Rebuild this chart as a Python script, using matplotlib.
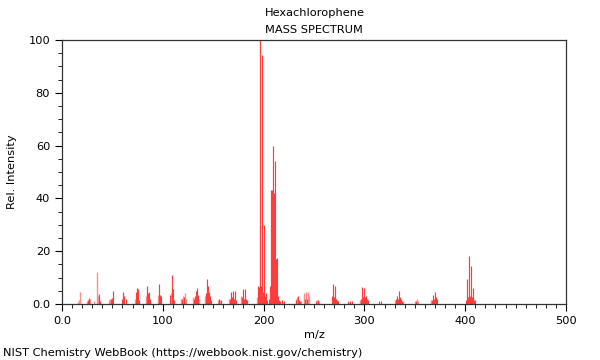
import matplotlib
matplotlib.use("Agg")
import matplotlib.pyplot as plt
from matplotlib.ticker import MultipleLocator

# Main (solid red) peaks
mz_main = [26, 27, 37, 38, 49, 50, 51, 60, 61, 62, 63, 73, 74, 75, 76,
           84, 85, 86, 87, 96, 97, 98, 107, 109, 110, 111, 119, 121,
           131, 132, 133, 134, 135, 143, 144, 145, 146, 147, 148, 156, 158,
           167, 168, 169, 170, 171, 172, 173, 179, 180, 181, 182, 183, 184,
           194, 195, 196, 197, 198, 199, 200, 201, 202, 203,
           205, 206, 207, 208, 209, 210, 211, 212, 213, 214, 215, 216, 218, 220,
           232, 234, 235, 236, 241, 243, 252, 254,
           268, 269, 270, 271, 272, 273, 274, 284, 286, 288,
           297, 298, 299, 300, 301, 302, 303, 304, 314, 316,
           331, 332, 333, 334, 335, 336, 337, 351,
           367, 368, 369, 370, 371, 372,
           401, 402, 403, 404, 405, 406, 407, 408, 409, 410]
int_main = [1.5, 2.2, 3.8, 1.2, 2.0, 2.2, 5.0, 2.0, 4.5, 3.0, 2.0, 4.5, 6.0, 5.8, 1.5,
            7.0, 4.0, 4.5, 2.0, 7.5, 3.5, 3.0, 3.5, 11.0, 5.5, 1.5, 2.0, 2.5,
            2.0, 3.0, 5.0, 6.0, 3.5, 4.0, 9.5, 7.0, 4.5, 3.0, 1.5, 1.8, 1.5,
            2.0, 4.5, 2.5, 5.0, 2.0, 5.0, 1.5, 2.5, 5.5, 2.0, 5.5, 2.0, 1.5,
            7.0, 6.5, 100.0, 7.0, 94.5, 4.5, 30.0, 3.0, 4.0, 1.5,
            2.0, 7.0, 43.0, 43.0, 60.0, 42.0, 54.0, 17.0, 17.5, 3.0, 1.5, 1.2, 1.5, 1.0,
            1.5, 3.0, 1.5, 1.0, 2.0, 2.0, 1.0, 1.5,
            3.0, 7.5, 2.5, 7.0, 2.0, 1.5, 1.0, 1.0, 1.2, 1.0,
            2.0, 6.5, 2.5, 6.0, 2.5, 3.0, 2.0, 1.5, 1.0, 1.0,
            2.0, 3.0, 2.0, 5.0, 2.5, 2.0, 1.0, 1.2,
            1.5, 3.5, 2.0, 4.5, 2.5, 2.0,
            1.5, 9.5, 2.5, 18.0, 3.0, 14.5, 2.5, 6.0, 1.5, 1.5]

# Faint (light red) peaks
mz_faint = [16, 17, 18, 25, 28, 32, 35, 36, 47, 48, 72, 83, 95, 108, 118, 120, 122, 123,
            130, 136, 142, 155, 157, 166, 178, 193, 232, 233, 237, 240, 242, 244, 245,
            253, 255, 296, 330, 338, 350, 352, 353, 366]
int_faint = [0.8, 1.5, 4.5, 1.0, 2.0, 1.0, 12.0, 3.0, 1.5, 2.0, 2.0, 3.0, 3.5, 4.0, 2.0, 3.0, 4.0, 2.0,
             2.5, 2.0, 3.0, 1.5, 1.5, 2.0, 3.0, 2.5, 2.0, 2.5, 1.0, 4.0, 4.5, 4.5, 3.0,
             1.5, 1.0, 1.5, 1.5, 1.0, 1.0, 1.8, 1.2, 1.5]

title = "Hexachlorophene"
subtitle = "MASS SPECTRUM"
xlabel = "m/z"
ylabel = "Rel. Intensity"
footer = "NIST Chemistry WebBook (https://webbook.nist.gov/chemistry)"

plt.rcParams['font.family'] = ['DejaVu Sans']
fig = plt.figure(figsize=(6, 3.6), dpi=100)
ax = fig.add_axes([62/600, 56/360, 504/600, 264/360])

ax.vlines(mz_faint, 0, int_faint, colors="#ff8c8c", linewidth=1.0)
ax.vlines(mz_main, 0, int_main, colors="#ff3c3c", linewidth=0.85)

ax.set_xlim(0, 500)
ax.set_ylim(0, 100)
ax.xaxis.set_minor_locator(MultipleLocator(10))
ax.yaxis.set_minor_locator(MultipleLocator(5))
ax.tick_params(which='both', direction='out', labelsize=8.2, colors='black')
ax.tick_params(which='major', length=5, width=0.8)
ax.tick_params(which='minor', length=3, width=0.6)
ax.set_xticks([0, 100, 200, 300, 400, 500])
ax.set_xticklabels(["0.0", "100", "200", "300", "400", "500"])
ax.set_yticks([0, 20, 40, 60, 80, 100])
ax.set_yticklabels(["0.0", "20", "40", "60", "80", "100"])
for s in ax.spines.values():
    s.set_color("#333333")
    s.set_linewidth(0.9)

ax.set_xlabel(xlabel, fontsize=8.2, labelpad=3)
ax.set_ylabel(ylabel, fontsize=8.2, labelpad=8)

fig.text(265/600, 1 - 13/360, title, fontsize=8.2, ha='left', va='center')
fig.text(265/600, 1 - 30/360, subtitle, fontsize=8.2, ha='left', va='center')
fig.text(3/600, 1 - 353/360, footer, fontsize=8.2, ha='left', va='center')

fig.savefig("out.png", dpi=100)
